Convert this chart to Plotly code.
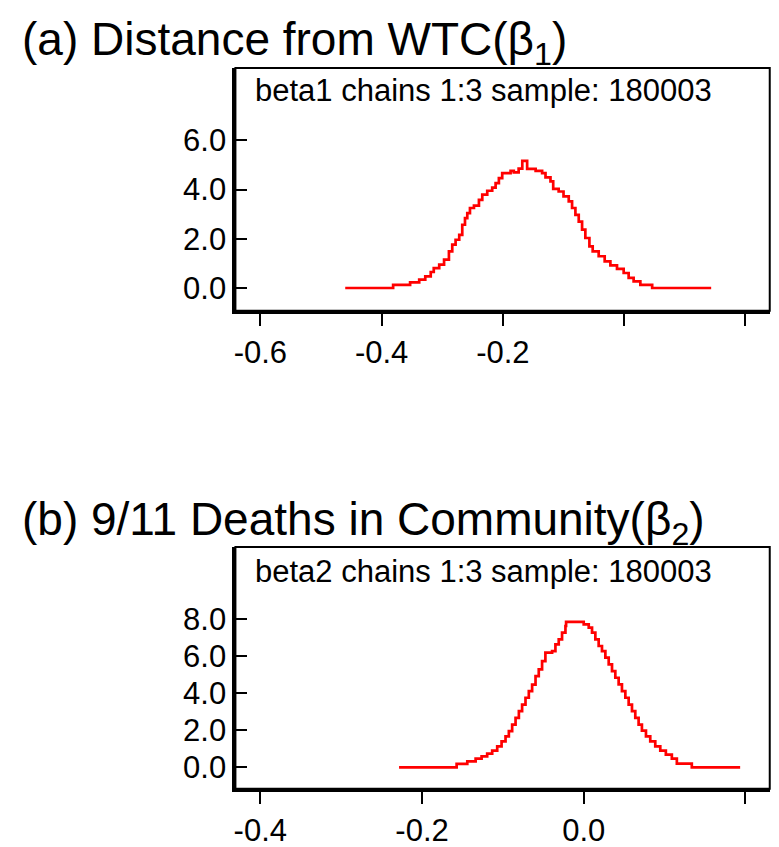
import plotly.graph_objects as go

# ---- data ----
beta1_x = [-0.460, -0.381, -0.353, -0.338, -0.328, -0.319, -0.314, -0.305, -0.297, -0.289,
           -0.2835, -0.278, -0.272, -0.267, -0.2625, -0.2587, -0.2543, -0.2477, -0.2395, -0.234,
           -0.2258, -0.2176, -0.212, -0.2066, -0.2011, -0.1873, -0.182, -0.174, -0.168, -0.160,
           -0.146, -0.1353, -0.1297, -0.1215, -0.117, -0.108, -0.100, -0.0914, -0.0859, -0.0804,
           -0.0749, -0.0694, -0.064, -0.0573, -0.0519, -0.042, -0.0321, -0.0227, -0.0118, -0.0008,
           0.0074, 0.0156, 0.0267, 0.0462, 0.1435]
beta1_y = [0.0, 0.13, 0.23, 0.34, 0.47, 0.65, 0.81, 0.95, 1.15, 1.49,
           1.76, 1.96, 2.16, 2.57, 2.84, 3.04, 3.25, 3.35, 3.58, 3.79,
           3.95, 4.08, 4.26, 4.46, 4.67, 4.76, 4.70, 4.85, 5.16, 4.84,
           4.76, 4.67, 4.49, 4.33, 4.03, 3.92, 3.72, 3.52, 3.25, 2.97,
           2.70, 2.37, 2.03, 1.69, 1.49, 1.29, 1.08, 0.92, 0.78, 0.61,
           0.41, 0.27, 0.13, 0.0, 0.0]

beta2_x = [-0.2284, -0.1572, -0.144, -0.1337, -0.1263, -0.1194, -0.1132, -0.107, -0.1016, -0.0967,
           -0.0926, -0.0885, -0.0843, -0.0802, -0.0762, -0.072, -0.0679, -0.0638, -0.0596, -0.0556,
           -0.0515, -0.0474, -0.0391, -0.035, -0.0309, -0.0268, -0.0226, -0.0218, 0.0, 0.0062,
           0.0103, 0.0144, 0.0185, 0.0226, 0.0268, 0.0309, 0.035, 0.0391, 0.0432, 0.0473,
           0.0515, 0.0556, 0.0597, 0.0638, 0.0679, 0.072, 0.077, 0.0823, 0.0885, 0.0947,
           0.1016, 0.109, 0.1152, 0.1337, 0.1935]
beta2_y = [0.0, 0.18, 0.32, 0.47, 0.59, 0.74, 0.90, 1.13, 1.40, 1.67,
           1.95, 2.30, 2.66, 3.03, 3.38, 3.75, 4.11, 4.46, 4.92, 5.28,
           5.73, 6.18, 6.27, 6.63, 6.90, 7.26, 7.62, 7.84, 7.71, 7.53,
           7.26, 6.90, 6.54, 6.27, 5.91, 5.55, 5.19, 4.83, 4.47, 4.11,
           3.75, 3.38, 3.03, 2.66, 2.30, 1.98, 1.67, 1.40, 1.13, 0.90,
           0.68, 0.47, 0.20, 0.0, 0.0]

x1_tickvals = [-0.6, -0.4, -0.2, 0.0, 0.2]
x1_ticktext = ["-0.6", "-0.4", "-0.2", "", ""]
y1_tickvals = [0.0, 2.0, 4.0, 6.0]
y1_ticktext = ["0.0", "2.0", "4.0", "6.0"]

x2_tickvals = [-0.4, -0.2, 0.0, 0.2]
x2_ticktext = ["-0.4", "-0.2", "0.0", ""]
y2_tickvals = [0.0, 2.0, 4.0, 6.0, 8.0]
y2_ticktext = ["0.0", "2.0", "4.0", "6.0", "8.0"]

title_a = "(a) Distance from WTC(β<sub>1</sub>)"
title_b = "(b) 9/11 Deaths in Community(β<sub>2</sub>)"
label_a = "beta1 chains 1:3 sample: 180003"
label_b = "beta2 chains 1:3 sample: 180003"

FONT = "Liberation Sans, Arial, sans-serif"
W, H = 779, 847

fig = go.Figure()
fig.add_trace(go.Scatter(x=beta1_x, y=beta1_y, mode="lines", line=dict(color="#ff0000", width=2.7, shape="hv"),
                         xaxis="x", yaxis="y", showlegend=False))
fig.add_trace(go.Scatter(x=beta2_x, y=beta2_y, mode="lines", line=dict(color="#ff0000", width=2.7, shape="hv"),
                         xaxis="x2", yaxis="y2", showlegend=False))

def px_x(p):
    return p / W

def px_y(p):
    return (H - p) / H

common_x = dict(showgrid=False, zeroline=False, showline=True, linecolor="black", linewidth=3,
                ticks="outside", ticklen=12, tickwidth=2, tickcolor="black",
                tickfont=dict(family=FONT, size=31, color="black"))
common_y = dict(showgrid=False, zeroline=False, showline=True, linecolor="black", linewidth=3,
                ticks="inside", ticklen=12, tickwidth=2, tickcolor="black",
                tickfont=dict(family=FONT, size=31, color="black"), ticklabelstandoff=0)

fig.update_layout(
    width=W, height=H, margin=dict(l=0, r=0, t=0, b=0),
    paper_bgcolor="white", plot_bgcolor="white",
    xaxis=dict(domain=[px_x(226), px_x(761.7)], range=[-0.6411, 0.2401], anchor="y",
               tickmode="array", tickvals=x1_tickvals, ticktext=x1_ticktext, **common_x),
    yaxis=dict(domain=[px_y(302.7), px_y(60)], range=[-0.922, 8.936], anchor="x",
               tickmode="array", tickvals=y1_tickvals, ticktext=y1_ticktext, **common_y),
    xaxis2=dict(domain=[px_x(226), px_x(761.7)], range=[-0.4308, 0.2301], anchor="y2",
                tickmode="array", tickvals=x2_tickvals, ticktext=x2_ticktext, **common_x),
    yaxis2=dict(domain=[px_y(780.7), px_y(539)], range=[-1.154, 11.88], anchor="x2",
                tickmode="array", tickvals=y2_tickvals, ticktext=y2_ticktext, **common_y),
)

# box borders (top/right thinner)
for xr, yr in (("x", "y"), ("x2", "y2")):
    fig.add_shape(type="rect", xref=f"{xr} domain", yref=f"{yr} domain", x0=0, x1=1, y0=0, y1=1,
                  line=dict(color="black", width=2), fillcolor="rgba(0,0,0,0)", layer="above")

# titles
fig.add_annotation(text=title_a, xref="paper", yref="paper", x=px_x(10), y=px_y(35),
                   xanchor="left", yanchor="middle", showarrow=False,
                   font=dict(family=FONT, size=46, color="black"))
fig.add_annotation(text=title_b, xref="paper", yref="paper", x=px_x(10), y=px_y(514),
                   xanchor="left", yanchor="middle", showarrow=False,
                   font=dict(family=FONT, size=46, color="black"))
# inner labels
fig.add_annotation(text=label_a, xref="paper", yref="paper", x=px_x(244), y=px_y(82),
                   xanchor="left", yanchor="middle", showarrow=False,
                   font=dict(family=FONT, size=31, color="black"))
fig.add_annotation(text=label_b, xref="paper", yref="paper", x=px_x(244), y=px_y(563),
                   xanchor="left", yanchor="middle", showarrow=False,
                   font=dict(family=FONT, size=31, color="black"))

fig.write_html("out.html")
